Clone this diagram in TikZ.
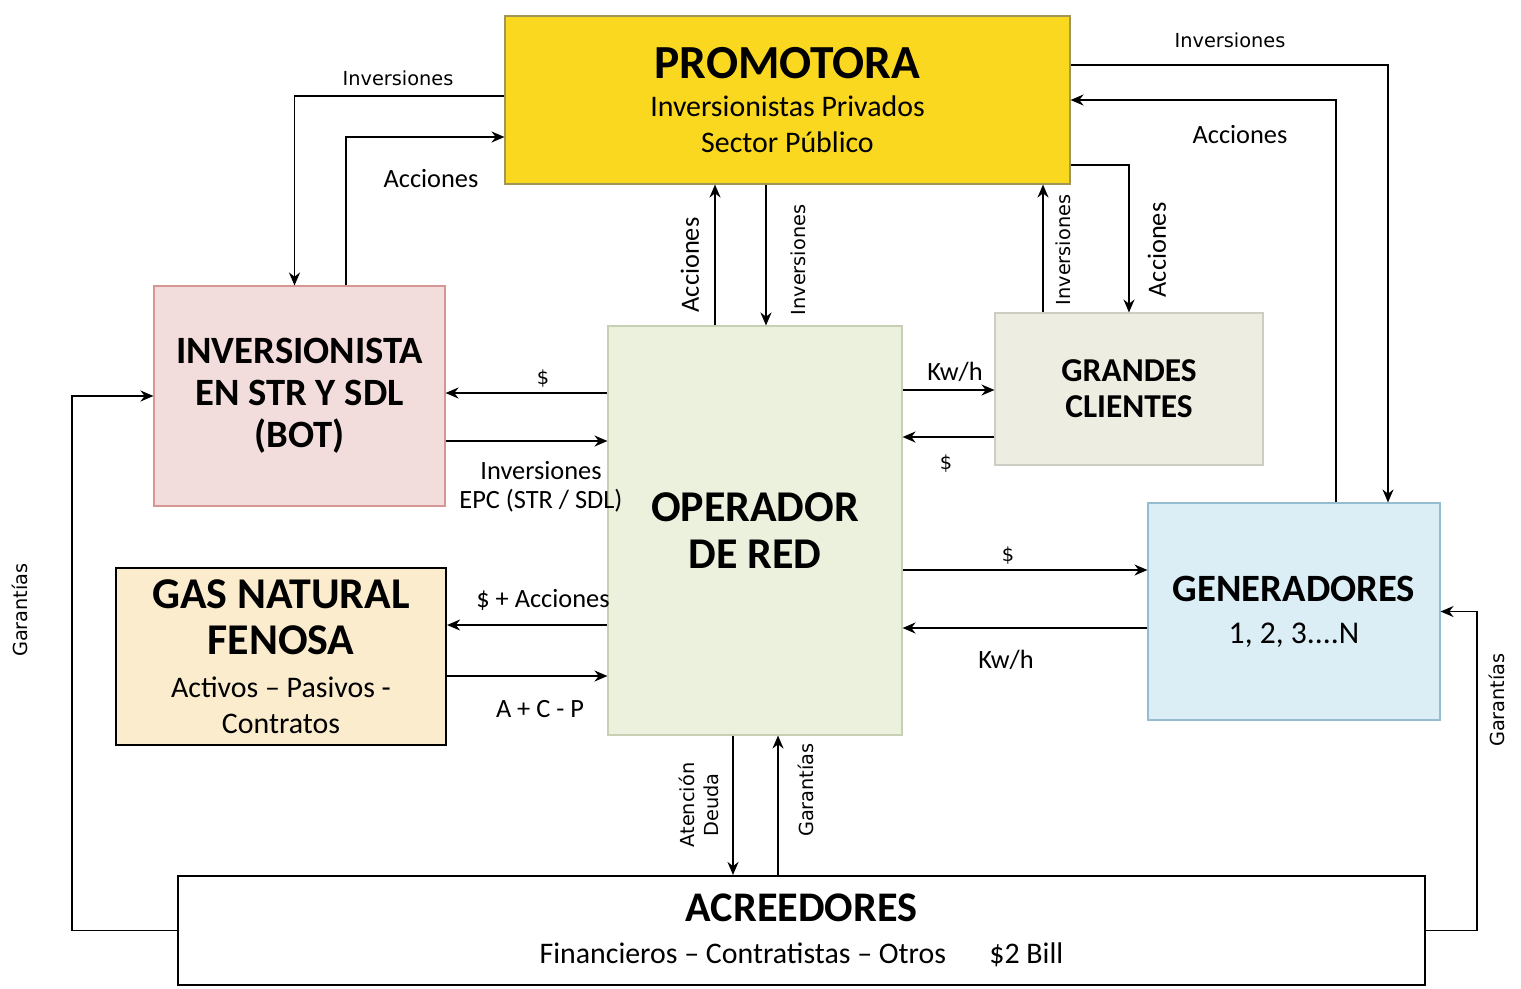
\documentclass[tikz,border=0pt]{standalone}
\usepackage{fontspec}
\setmainfont{Carlito}
\newfontfamily\thinfont{DejaVu Sans}
\usetikzlibrary{arrows.meta}
\definecolor{promfill}{RGB}{250,216,32}
\definecolor{promline}{RGB}{160,150,90}
\definecolor{invfill}{RGB}{243,221,220}
\definecolor{invline}{RGB}{214,150,148}
\definecolor{oprfill}{RGB}{235,241,220}
\definecolor{oprline}{RGB}{200,208,180}
\definecolor{grafill}{RGB}{238,237,226}
\definecolor{graline}{RGB}{205,205,195}
\definecolor{genfill}{RGB}{219,237,245}
\definecolor{genline}{RGB}{150,188,208}
\definecolor{gasfill}{RGB}{251,236,206}
\tikzset{
  flow/.style={line width=1.1pt, -{Stealth[length=2.6mm, width=2.2mm]}},
  box/.style={draw, line width=0.6pt, align=center, inner sep=0pt},
  lbl/.style={font=\fontsize{15}{17}\selectfont, inner sep=1pt, align=center},
  lblthin/.style={font=\thinfont\fontsize{11}{14}\selectfont, inner sep=1pt, align=center},
}

\begin{document}
\begin{tikzpicture}

  \useasboundingbox (0,0) rectangle (30.42,-19.76);

  % boxes
  \node[box, draw=promline, fill=promfill, minimum width=11.3cm, minimum height=3.36cm,
        font=\fontsize{17}{20.4}\selectfont] (prom) at (15.75,-2.0)
        {{\fontsize{27}{30}\selectfont\bfseries PROMOTORA}\\[1pt]
         Inversionistas Privados\\Sector Público};
  \node[box, draw=invline, fill=invfill, minimum width=5.82cm, minimum height=4.4cm,
        font=\fontsize{22}{24}\selectfont\bfseries] (inv) at (5.99,-7.92)
        {INVERSIONISTA\\EN STR Y SDL\\(BOT)};
  \node[box, draw=oprline, fill=oprfill, minimum width=5.88cm, minimum height=8.18cm,
        font=\fontsize{25}{27}\selectfont\bfseries] (opr) at (15.1,-10.61)
        {OPERADOR\\DE RED};
  \node[box, draw=graline, fill=grafill, minimum width=5.36cm, minimum height=3.04cm,
        font=\fontsize{19}{20.5}\selectfont\bfseries] (gra) at (22.58,-7.78)
        {GRANDES\\CLIENTES};
  \node[box, draw=genline, fill=genfill, minimum width=5.84cm, minimum height=4.34cm,
        font=\fontsize{18}{20}\selectfont] (gen) at (25.88,-12.23)
        {{\fontsize{22}{24}\selectfont\bfseries GENERADORES}\\[4pt]1, 2, 3....N};
  \node[box, line width=1.2pt, fill=gasfill, minimum width=6.6cm, minimum height=3.54cm,
        font=\fontsize{17}{20.4}\selectfont] (gas) at (5.62,-13.13)
        {{\fontsize{25}{27}\selectfont\bfseries GAS NATURAL}\\[6pt]
         {\fontsize{25}{27}\selectfont\bfseries FENOSA}\\[4pt]
         Activos -- Pasivos -\\Contratos};
  \node[box, line width=1.2pt, fill=white, minimum width=24.94cm, minimum height=2.18cm,
        font=\fontsize{17}{20}\selectfont] (acr) at (16.03,-18.61)
        {{\fontsize{24}{26}\selectfont\bfseries ACREEDORES}\\[4pt]
         Financieros -- Contratistas -- Otros \quad\ \$2 Bill};

  % promotora links
  \draw[flow] ([yshift=0.8mm]prom.west) -| ([xshift=-1mm]inv.north);
  \draw[flow] ([xshift=9.3mm]inv.north) |- ([yshift=-7.4mm]prom.west);
  \draw[flow] ([xshift=-8mm]opr.north) -- ([xshift=-8mm]opr.north |- prom.south);
  \draw[flow] ([xshift=2.2mm]opr.north |- prom.south) -- ([xshift=2.2mm]opr.north);
  \draw[flow] ([xshift=-17.2mm]gra.north) -- ([xshift=-17.2mm]gra.north |- prom.south);
  \draw[flow] ([yshift=-13mm]prom.east) -| (gra.north);
  \draw[flow] ([yshift=7mm]prom.east) -| ([xshift=18.8mm]gen.north);
  \draw[flow] ([xshift=8.4mm]gen.north) |- (prom.east);

  % operador links
  \draw[flow] ([yshift=27.5mm]opr.west) -- ([yshift=27.5mm]opr.west -| inv.east);
  \draw[flow] ([yshift=17.9mm]opr.west -| inv.east) -- ([yshift=17.9mm]opr.west);
  \draw[flow] ([yshift=-18.9mm]opr.west) -- ([yshift=-18.9mm]opr.west -| gas.east);
  \draw[flow] ([yshift=-29.1mm]opr.west -| gas.east) -- ([yshift=-29.1mm]opr.west);
  \draw[flow] ([yshift=28.1mm]opr.east) -- ([yshift=28.1mm]opr.east -| gra.west);
  \draw[flow] ([yshift=18.7mm]opr.east -| gra.west) -- ([yshift=18.7mm]opr.east);
  \draw[flow] ([yshift=-7.9mm]opr.east) -- ([yshift=-7.9mm]opr.east -| gen.west);
  \draw[flow] ([yshift=-19.5mm]opr.east -| gen.west) -- ([yshift=-19.5mm]opr.east);
  \draw[flow] ([xshift=-4.4mm]opr.south) -- ([xshift=-4.4mm]opr.south |- acr.north);
  \draw[flow] ([xshift=4.6mm]opr.south |- acr.north) -- ([xshift=4.6mm]opr.south);

  % garantias loops
  \coordinate (gl) at (1.44,0);
  \coordinate (gr) at (29.54,0);
  \draw[flow] (acr.west) -| (gl |- inv.west) -- (inv.west);
  \draw[flow] (acr.east) -| (gr |- gen.east) -- (gen.east);

  % labels
  \node[lblthin] (l1) at (7.96,-1.56) {Inversiones};
  \node[lbl] (l2) at (8.62,-3.58) {Acciones};
  \node[lbl, rotate=90] (l3) at (13.8,-5.3) {Acciones};
  \node[lblthin, rotate=90] (l4) at (15.96,-5.2) {Inversiones};
  \node[lblthin, rotate=90] (l5) at (21.26,-5.0) {Inversiones};
  \node[lbl, rotate=90] (l6) at (23.14,-5.0) {Acciones};
  \node[lblthin] (l7) at (24.6,-0.8) {Inversiones};
  \node[lbl] (l8) at (24.8,-2.7) {Acciones};
  \node[lblthin] (l9) at (10.86,-7.58) {\$};
  \node[lbl, font=\fontsize{15}{16.5}\selectfont] (l10) at (10.82,-9.74) {Inversiones\\EPC (STR / SDL)};
  \node[lbl] (l11) at (19.1,-7.44) {Kw/h};
  \node[lblthin] (l12) at (18.92,-9.28) {\$};
  \node[lblthin] (l13) at (20.16,-11.12) {\$};
  \node[lbl] (l14) at (20.12,-13.2) {Kw/h};
  \node[lbl] (l15) at (10.86,-12.0) {\$ + Acciones};
  \node[lbl] (l16) at (10.8,-14.18) {A + C - P};
  \node[lblthin, rotate=90] (l17) at (13.98,-16.1) {Atención\\Deuda};
  \node[lblthin, rotate=90] (l18) at (16.12,-15.8) {Garantías};
  \node[lblthin, rotate=90] (l19) at (0.4,-12.2) {Garantías};
  \node[lblthin, rotate=90] (l20) at (29.94,-14.0) {Garantías};

\end{tikzpicture}
\end{document}
